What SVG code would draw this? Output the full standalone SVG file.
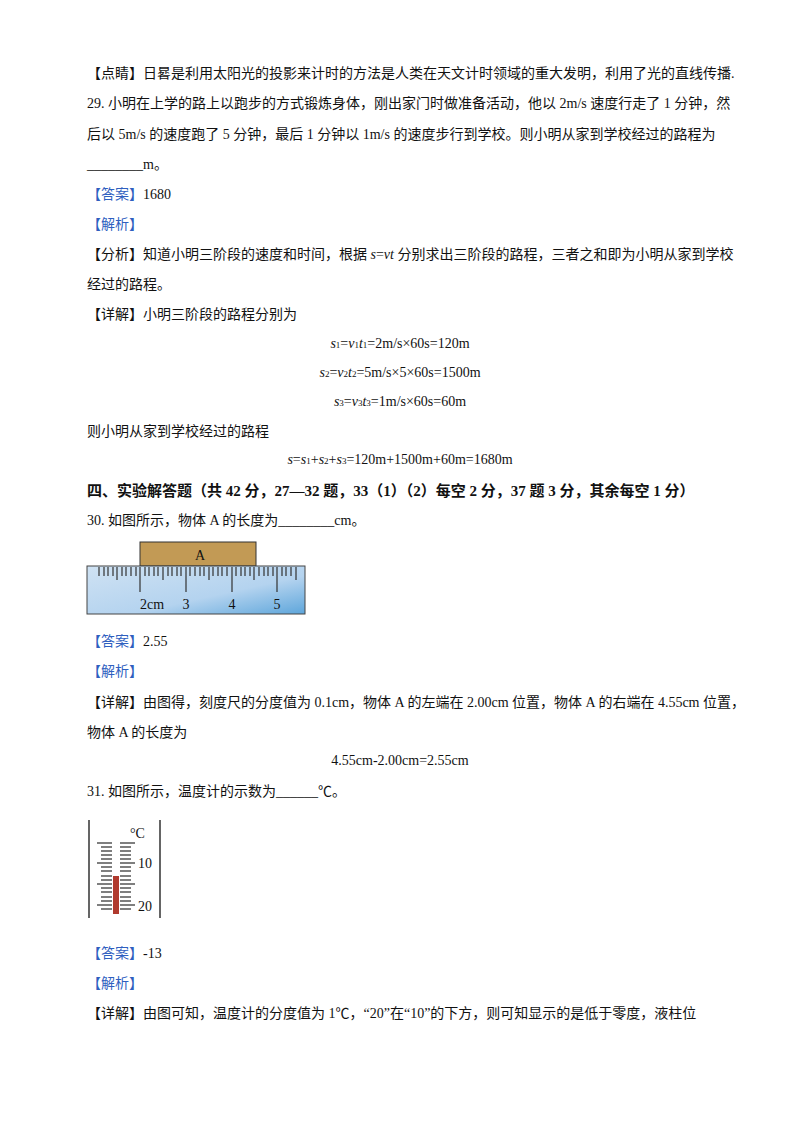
<svg xmlns="http://www.w3.org/2000/svg" width="800" height="1132" viewBox="0 0 800 1132">
<style>
text{font-family:"Liberation Serif","Noto Sans CJK SC",serif;font-size:14px;fill:#111}
.b{fill:#2f5fbf}
.bold{font-weight:bold;font-size:15px}
.c{text-anchor:middle}
.tk{stroke:#333;stroke-width:1.2}
.tt{stroke:#555;stroke-width:1.3}
</style>
<defs>
<linearGradient id="rg" x1="0" y1="0" x2="1" y2="1">
<stop offset="0" stop-color="#cfe2f3"/><stop offset="0.6" stop-color="#b4d3ef"/><stop offset="1" stop-color="#5ea6db"/>
</linearGradient>
</defs>
<rect width="800" height="1132" fill="#fff"/>
<text x="87" y="78">【点睛】日晷是利用太阳光的投影来计时的方法是人类在天文计时领域的重大发明，利用了光的直线传播.</text>
<text x="87" y="108">29. 小明在上学的路上以跑步的方式锻炼身体，刚出家门时做准备活动，他以 2m/s 速度行走了 1 分钟，然</text>
<text x="87" y="139">后以 5m/s 的速度跑了 5 分钟，最后 1 分钟以 1m/s 的速度步行到学校。则小明从家到学校经过的路程为</text>
<text x="87" y="169">________m。</text>
<text x="87" y="199"><tspan class="b">【答案】</tspan>1680</text>
<text x="87" y="229" class="b">【解析】</text>
<text x="87" y="259">【分析】知道小明三阶段的速度和时间，根据 <tspan font-style="italic">s</tspan>=<tspan font-style="italic">vt</tspan> 分别求出三阶段的路程，三者之和即为小明从家到学校</text>
<text x="87" y="289">经过的路程。</text>
<text x="87" y="319">【详解】小明三阶段的路程分别为</text>
<text x="400" y="348" class="c"><tspan font-style="italic">s</tspan><tspan font-size="9">1</tspan>=<tspan font-style="italic">v</tspan><tspan font-size="9">1</tspan><tspan font-style="italic">t</tspan><tspan font-size="9">1</tspan>=2m/s×60s=120m</text>
<text x="400" y="377" class="c"><tspan font-style="italic">s</tspan><tspan font-size="9">2</tspan>=<tspan font-style="italic">v</tspan><tspan font-size="9">2</tspan><tspan font-style="italic">t</tspan><tspan font-size="9">2</tspan>=5m/s×5×60s=1500m</text>
<text x="400" y="406" class="c"><tspan font-style="italic">s</tspan><tspan font-size="9">3</tspan>=<tspan font-style="italic">v</tspan><tspan font-size="9">3</tspan><tspan font-style="italic">t</tspan><tspan font-size="9">3</tspan>=1m/s×60s=60m</text>
<text x="87" y="436">则小明从家到学校经过的路程</text>
<text x="400" y="464" class="c"><tspan font-style="italic">s</tspan>=<tspan font-style="italic">s</tspan><tspan font-size="9">1</tspan>+<tspan font-style="italic">s</tspan><tspan font-size="9">2</tspan>+<tspan font-style="italic">s</tspan><tspan font-size="9">3</tspan>=120m+1500m+60m=1680m</text>
<text x="87" y="496" class="bold">四、实验解答题（共 42 分，27—32 题，33（1）（2）每空 2 分，37 题 3 分，其余每空 1 分）</text>
<text x="87" y="525">30. 如图所示，物体 A 的长度为________cm。</text>
<g id="ruler">
<rect x="140" y="542" width="116" height="24" fill="#c29a55" stroke="#333" stroke-width="1"/>
<text x="200" y="560" class="c" font-size="15">A</text>
<rect x="87" y="566" width="218" height="48" fill="url(#rg)" stroke="#444" stroke-width="1"/>
<g class="tk">
<path d="M99 567v9M104 567v9M108 567v9M113 567v9M117 567v13M122 567v9M126 567v9M131 567v9M136 567v9M140 567v25M145 567v9M149 567v9M154 567v9M158 567v9M163 567v13M168 567v9M172 567v9M177 567v9M181 567v9M186 567v25M190 567v9M195 567v9M200 567v9M204 567v9M209 567v13M213 567v9M218 567v9M222 567v9M227 567v9M232 567v25M236 567v9M241 567v9M245 567v9M250 567v9M254 567v13M259 567v9M264 567v9M268 567v9M273 567v9M277 567v25M282 567v9M286 567v9M291 567v9M296 567v13"/>
</g>
<text x="152" y="609" class="c" font-size="15">2cm</text>
<text x="186" y="609" class="c" font-size="15">3</text>
<text x="232" y="609" class="c" font-size="15">4</text>
<text x="277" y="609" class="c" font-size="15">5</text>
</g>
<text x="87" y="646"><tspan class="b">【答案】</tspan>2.55</text>
<text x="87" y="676" class="b">【解析】</text>
<text x="87" y="707">【详解】由图得，刻度尺的分度值为 0.1cm，物体 A 的左端在 2.00cm 位置，物体 A 的右端在 4.55cm 位置，</text>
<text x="87" y="737">物体 A 的长度为</text>
<text x="400" y="765" class="c" font-size="17">4.55cm-2.00cm=2.55cm</text>
<text x="87" y="796">31. 如图所示，温度计的示数为______℃。</text>
<g id="thermometer">
<path d="M89 820v98M160 820v98" stroke="#333" stroke-width="1.5"/>
<text x="130" y="838" font-size="14">°C</text>
<rect x="113" y="876" width="6" height="38" fill="#b03a2e"/>
<g class="tt">
<path d="M97 843h15M101 847h11M101 851h11M101 855h11M101 859h11M97 863h15M101 867h11M101 871h11M101 876h11M101 880h11M97 884h15M101 888h11M101 892h11M101 897h11M101 901h11M97 905h15M101 909h11"/>
<path d="M120 843h15M120 847h11M120 851h11M120 855h11M120 859h11M120 863h15M120 867h11M120 871h11M120 876h11M120 880h11M120 884h15M120 888h11M120 892h11M120 897h11M120 901h11M120 905h15M120 909h11"/>
</g>
<text x="138" y="868" font-size="15">10</text>
<text x="138" y="911" font-size="15">20</text>
</g>
<text x="87" y="958"><tspan class="b">【答案】</tspan>-13</text>
<text x="87" y="988" class="b">【解析】</text>
<text x="87" y="1018">【详解】由图可知，温度计的分度值为 1℃，“20”在“10”的下方，则可知显示的是低于零度，液柱位</text>
</svg>
